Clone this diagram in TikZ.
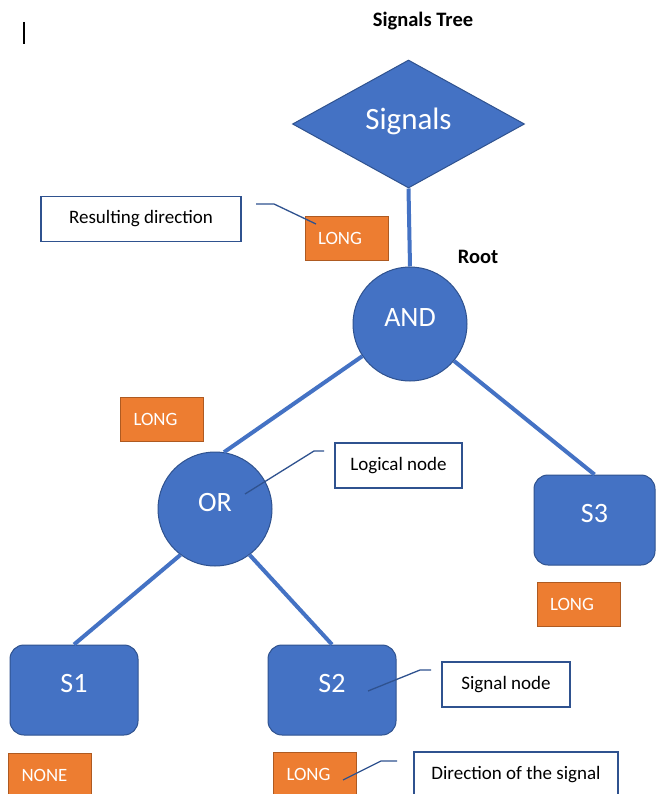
\documentclass[tikz,border=0pt]{standalone}
\usepackage{fontspec}
\setmainfont{Carlito}
\usetikzlibrary{shapes.geometric}
\definecolor{ofblue}{HTML}{4472C4}
\definecolor{ofbord}{HTML}{2F528F}
\definecolor{oforange}{HTML}{ED7D31}
\definecolor{oforbord}{HTML}{AE5A21}
\begin{document}
\begin{tikzpicture}[x=1pt,y=-1pt,
  bluefill/.style={fill=ofblue, draw=ofbord, line width=1pt, text=white},
  logicnode/.style={bluefill, circle, minimum size=114pt, inner sep=0pt, text height=18pt, text depth=14pt, font=\fontsize{28}{30}\selectfont},
  sigbox/.style={bluefill, rectangle, rounded corners=14pt, minimum width=128pt, minimum height=90pt, inner sep=0pt, text height=18pt, text depth=14pt, font=\fontsize{28}{30}\selectfont},
  dirbox/.style={fill=oforange, draw=oforbord, line width=0.8pt, text=white, minimum height=44pt, text width=57pt, inner xsep=13pt, inner ysep=0pt, align=left, font=\fontsize{18.8}{20}\selectfont},
  notebox/.style={draw=ofbord, line width=1.2pt, fill=white, minimum height=45pt, inner sep=0pt, font=\fontsize{19}{21}\selectfont},
  treeline/.style={draw=ofblue, line width=4pt},
  callout/.style={draw=ofbord, line width=1.3pt},
  boldlbl/.style={font=\bfseries\fontsize{20.5}{22}\selectfont}
]
\clip (0,0) rectangle (656,794);
\fill[white] (0,0) rectangle (656,794);

% cursor bar
\draw[line width=1.2pt] (24,22) -- (24,44);

% titles
\node[boldlbl] (title) at (423,21) {Signals Tree};
\node[boldlbl] (root) at (478,257) {Root};

% tree nodes
\node[bluefill, diamond, aspect=1.8, inner sep=0pt, minimum width=232pt, minimum height=128pt, text height=22pt, text depth=10pt, font=\fontsize{31}{33}\selectfont] (signals) at (408.5,124) {Signals};
\node[logicnode] (and) at (410,324) {AND};
\node[logicnode] (or) at (215,509) {OR};
\node[sigbox] (s1) at (74,690) {S1};
\node[sigbox] (s2) at (332,690) {S2};
\node[sigbox, minimum width=121pt] (s3) at (594.5,520) {S3};

% tree lines
\draw[treeline] (signals.south) -- (and.north);
\draw[treeline] (and.214.5) -- (or.81);
\draw[treeline] (and.-40) -- (s3.north);
\draw[treeline] (or.233) -- (s1.north);
\draw[treeline] (or.-53) -- (s2.north);

% directions
\node[dirbox] (d0) at (346.5,238) {LONG};
\node[dirbox] (d1) at (162,419.5) {LONG};
\node[dirbox] (d3) at (578.5,604) {LONG};
\node[dirbox] (d4) at (50,775) {NONE};
\node[dirbox] (d5) at (315,774) {LONG};

% notes
\node[notebox, minimum width=200pt] (n1) at (141,219) {Resulting direction};
\node[notebox, minimum width=127pt] (n2) at (398.5,465.5) {Logical node};
\node[notebox, minimum width=128pt] (n3) at (506,684.5) {Signal node};
\node[notebox, minimum width=204pt] (n4) at (516,774.5) {Direction of the signal};

% callout lines
\coordinate (c1a) at (256,204);
\coordinate (c1b) at (274,204);
\coordinate (c1c) at (316,224);
\draw[callout] (c1a) -- (c1b) -- (c1c);
\coordinate (c2a) at (324,451);
\coordinate (c2b) at (314,451);
\coordinate (c2c) at (245,494);
\draw[callout] (c2a) -- (c2b) -- (c2c);
\coordinate (c3a) at (431,670);
\coordinate (c3b) at (420,670);
\coordinate (c3c) at (368,691);
\draw[callout] (c3a) -- (c3b) -- (c3c);
\coordinate (c4a) at (397,761);
\coordinate (c4b) at (381,761);
\coordinate (c4c) at (343,780);
\draw[callout] (c4a) -- (c4b) -- (c4c);
\end{tikzpicture}
\end{document}
